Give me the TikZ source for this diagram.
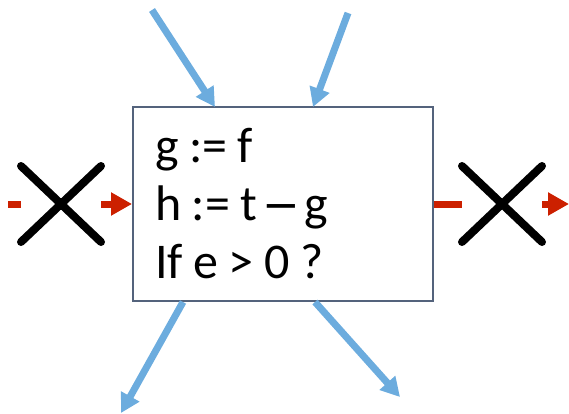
\documentclass[tikz,border=0pt]{standalone}
\usepackage{fontspec}
\setmainfont{Carlito}
\newfontfamily\dashfont{DejaVu Sans}
\usetikzlibrary{positioning, arrows.meta, shapes.misc}
\definecolor{flowblue}{RGB}{108,172,222}
\definecolor{killred}{RGB}{204,32,0}
\definecolor{boxgray}{RGB}{84,99,124}

\begin{document}
\begin{tikzpicture}[
  x=1pt, y=-1pt,
  node distance=30pt,
  block/.style={draw=boxgray, line width=2pt, minimum width=300pt, minimum height=194pt, inner xsep=22pt, text width=256pt, align=left, font=\fontsize{50}{58}\selectfont},
  xmark/.style={cross out, draw=black, line width=8pt, line cap=round, minimum width=72pt, minimum height=68pt, inner sep=0pt},
  dataflow/.style={flowblue, line width=7pt, -{Triangle[width=20pt,length=19pt]}},
  killed/.style={killred, line width=7pt, -{Triangle[width=22pt,length=21pt]}}
]
\useasboundingbox (0,0) rectangle (569,414);

\node[block] (box) at (283,204) {\spaceskip=0.21em\relax g :=~f\\ h := t\hspace{5pt}{\dashfont\fontsize{45}{58}\selectfont −}\hspace{4pt}g\\ If e > 0 ?};
\node[xmark, left=31pt of box] (xin) {};
\node[xmark, right=28pt of box] (xout) {};

% incoming and outgoing values
\coordinate (src1) at (152,10);
\coordinate (dst1) at (215,107);
\coordinate (src2) at (348,13);
\coordinate (dst2) at (313,107);
\coordinate (tap1) at (183,302);
\coordinate (sink1) at (121,413);
\coordinate (tap2) at (315,302);
\coordinate (sink2) at (400,397);

\draw[dataflow] (src1) -- (dst1);
\draw[dataflow] (src2) -- (dst2);
\draw[dataflow] (tap1) -- (sink1);
\draw[dataflow] (tap2) -- (sink2);

% control flow, cut on both sides
\coordinate (cut) at (8,204);
\coordinate (exit) at (569,204);
\draw[killred, line width=7pt] (cut) -- (xin.west);
\draw[killed] (xin) -- (box);
\draw[killred, line width=7pt] (box) -- (xout);
\draw[killed] (xout) -- (exit);
\end{tikzpicture}
\end{document}
